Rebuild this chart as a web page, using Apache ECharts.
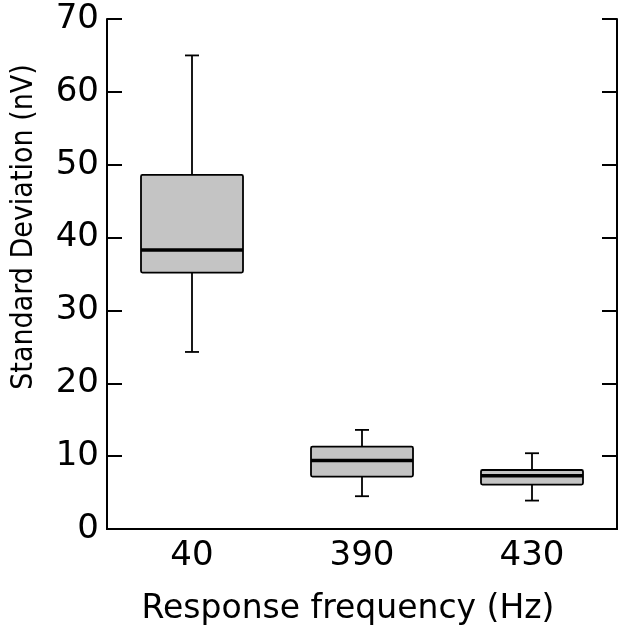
<!DOCTYPE html>
<html>
<head>
<meta charset="utf-8">
<script src="https://cdn.jsdelivr.net/npm/echarts@6/dist/echarts.min.js"></script>
<style>
  html, body { margin: 0; padding: 0; background: #fff; }
  #chart { width: 624px; height: 633px; }
</style>
</head>
<body>
<div id="chart"></div>
<script>
const categories = ['40', '390', '430']
const whiskerLow = [24.3, 4.5, 3.9]
const q1 = [35.2, 7.2, 6.1]
const median = [38.3, 9.4, 7.3]
const q3 = [48.6, 11.3, 8.1]
const whiskerHigh = [65, 13.6, 10.4]
const yTicks = [0, 10, 20, 30, 40, 50, 60, 70]

const FONT = '"DejaVu Sans", sans-serif'
const boxData = categories.map((c, i) => [i, whiskerLow[i], q1[i], median[i], q3[i], whiskerHigh[i]])

function renderBox(params, api) {
  const idx = api.value(0)
  const band = api.size([1, 0])[0]
  const half = band * 0.3
  const capHalf = 7
  const pLow = api.coord([idx, api.value(1)])
  const pQ1 = api.coord([idx, api.value(2)])
  const pMed = api.coord([idx, api.value(3)])
  const pQ3 = api.coord([idx, api.value(4)])
  const pHigh = api.coord([idx, api.value(5)])
  const cx = pMed[0]
  const lineStyle = { stroke: '#000', lineWidth: 1.8 }
  return {
    type: 'group',
    children: [
      { type: 'line', shape: { x1: cx, y1: pQ3[1], x2: cx, y2: pHigh[1] }, style: lineStyle },
      { type: 'line', shape: { x1: cx, y1: pQ1[1], x2: cx, y2: pLow[1] }, style: lineStyle },
      { type: 'line', shape: { x1: cx - capHalf, y1: pHigh[1], x2: cx + capHalf, y2: pHigh[1] }, style: lineStyle },
      { type: 'line', shape: { x1: cx - capHalf, y1: pLow[1], x2: cx + capHalf, y2: pLow[1] }, style: lineStyle },
      {
        type: 'rect',
        shape: { x: cx - half, y: pQ3[1], width: half * 2, height: pQ1[1] - pQ3[1], r: 1.5 },
        style: { fill: '#c4c4c4', stroke: '#000', lineWidth: 1.8 }
      },
      { type: 'line', shape: { x1: cx - half, y1: pMed[1], x2: cx + half, y2: pMed[1] }, style: { stroke: '#000', lineWidth: 3.5 } }
    ]
  }
}

const chart = echarts.init(document.getElementById('chart'))
const axisLineStyle = { color: '#000', width: 2 }
const option = {
  animation: false,
  grid: { left: 107, top: 19, width: 510, height: 510 },
  xAxis: [{
    type: 'category',
    data: categories,
    position: 'bottom',
    name: 'Response frequency (Hz)',
    nameLocation: 'middle',
    nameGap: 64,
    nameTextStyle: { fontFamily: FONT, fontSize: 33, color: '#000', padding: [0, 28, 0, 0] },
    axisLine: { lineStyle: axisLineStyle },
    axisTick: { inside: true, length: 15, alignWithLabel: true, lineStyle: axisLineStyle },
    axisLabel: { fontFamily: FONT, fontSize: 34, color: '#000', margin: 10 }
  }, {
    type: 'category',
    data: categories,
    position: 'top',
    axisLine: { lineStyle: axisLineStyle },
    axisTick: { inside: true, length: 15, alignWithLabel: true, lineStyle: axisLineStyle },
    axisLabel: { show: false }
  }],
  yAxis: [{
    type: 'value',
    min: yTicks[0],
    max: yTicks[yTicks.length - 1],
    interval: 10,
    position: 'left',
    name: 'Standard Deviation (nV)',
    nameLocation: 'middle',
    nameGap: 68,
    nameTextStyle: { fontFamily: '"DejaVu Sans Condensed", "DejaVu Sans", sans-serif', fontSize: 30, color: '#000', padding: [0, 0, 0, 94] },
    splitLine: { show: false },
    axisLine: { show: true, lineStyle: axisLineStyle },
    axisTick: { show: true, inside: true, length: 15, lineStyle: axisLineStyle },
    axisLabel: { fontFamily: FONT, fontSize: 34, color: '#000', margin: 8 }
  }, {
    type: 'value',
    min: yTicks[0],
    max: yTicks[yTicks.length - 1],
    interval: 10,
    position: 'right',
    splitLine: { show: false },
    axisLine: { show: true, lineStyle: axisLineStyle },
    axisTick: { show: true, inside: true, length: 15, lineStyle: axisLineStyle },
    axisLabel: { show: false }
  }],
  series: [{
    type: 'custom',
    renderItem: renderBox,
    encode: { x: 0, y: [1, 2, 3, 4, 5] },
    data: boxData,
    z: 5
  }]
}
chart.setOption(option)
</script>
</body>
</html>
